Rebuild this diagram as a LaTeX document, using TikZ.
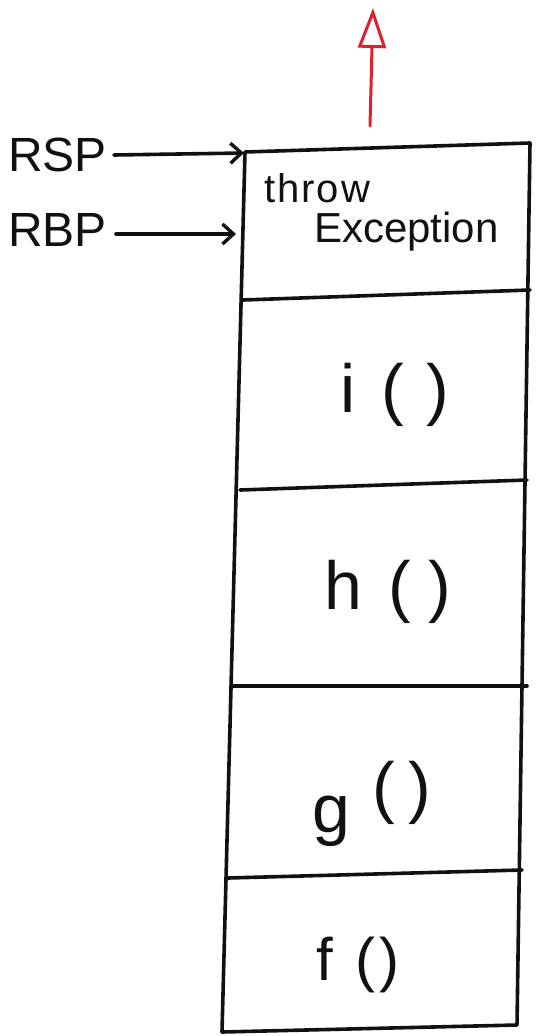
\documentclass[tikz,border=0pt]{standalone}
\usepackage{fontspec}
\setmainfont{Liberation Sans}
\usetikzlibrary{arrows.meta}
\definecolor{ink}{HTML}{111111}
\definecolor{redink}{HTML}{E0202E}
\tikzset{
  pen/.style={draw=ink, line width=3.6pt, line join=round, line cap=round},
  ptr/.style={pen, -{Straight Barb[length=11pt,width=20pt,line width=3.4pt]}},
  reglabel/.style={font=\fontsize{48}{48}\selectfont, text=ink, inner sep=0pt},
  framelabel/.style={font=\fontsize{68}{68}\selectfont, text=ink, inner sep=0pt},
}
\begin{document}
\begin{tikzpicture}[x=1pt,y=-1pt]
\useasboundingbox (0,0) rectangle (539,1036);
% frame corners
\coordinate (TL) at (245,152);  \coordinate (TR) at (530,143);
\coordinate (S1L) at (243,300); \coordinate (S1R) at (530,290);
\coordinate (S2L) at (240,490); \coordinate (S2R) at (527,480);
\coordinate (S3L) at (233,686); \coordinate (S3R) at (527,686);
\coordinate (S4L) at (228,878); \coordinate (S4R) at (522,870);
\coordinate (BL) at (222,1032); \coordinate (BR) at (517,1025);
% stack outline
\draw[pen] (TL) -- (TR) -- (BR) -- (BL) -- cycle;
\draw[pen] (S1L) -- (S1R);
\draw[pen] (S2L) -- (S2R);
\draw[pen] (S3L) -- (S3R);
\draw[pen] (S4L) -- (S4R);
% frame labels
\node[font=\fontsize{40}{40}\selectfont, text=ink, inner sep=0pt, anchor=west] (throw) at (264,188) {t\hspace{2pt}h\hspace{2pt}r\hspace{2pt}o\hspace{2pt}w};
\node[font=\fontsize{42}{42}\selectfont, text=ink, inner sep=0pt, anchor=west] (exc) at (314,232) {Exception};
\node[framelabel] (fi) at (395,395) {i\hspace{26pt}(\hspace{22pt})};
\node[framelabel] (fh) at (388,592) {h\hspace{26pt}(\hspace{18pt})};
\node[framelabel, anchor=base] (fg) at (372,832) {g\hspace{22pt}\raisebox{22pt}{(\hspace{14pt})}};
\node[font=\fontsize{60}{60}\selectfont, text=ink, inner sep=0pt] (ff) at (358,965) {f\hspace{22pt}(\hspace{4pt})};
% registers
\node[reglabel, anchor=west] (rsp) at (8,155) {RSP};
\node[reglabel, anchor=west] (rbp) at (8,230) {RBP};
\coordinate (rspstart) at (114,155);
\coordinate (rspend) at (244,153);
\coordinate (rbpstart) at (116,234);
\coordinate (rbpend) at (236,234);
\draw[ptr] (rspstart) -- (rspend);
\draw[ptr] (rbpstart) -- (rbpend);
% red unwinding arrow
\coordinate (redstart) at (370,126);
\coordinate (redend) at (373,8);
\draw[draw=redink, line width=3pt, line cap=round,
  -{Triangle[open, length=40pt, width=28pt, line width=3pt]}] (redstart) -- (redend);
\end{tikzpicture}
\end{document}
